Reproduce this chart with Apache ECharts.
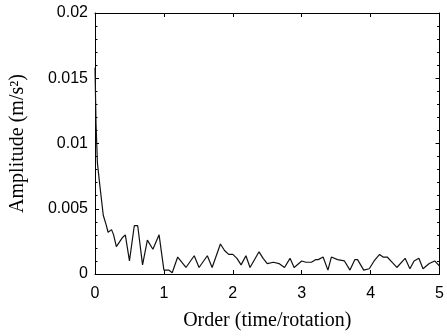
<!DOCTYPE html>
<html>
<head>
<meta charset="utf-8">
<script src="https://cdn.jsdelivr.net/npm/echarts@6/dist/echarts.min.js"></script>
<style>
  html, body { margin: 0; padding: 0; background: #fff; }
  #chart { width: 447px; height: 336px; }
</style>
</head>
<body>
<div id="chart"></div>
<script>
// Order axis positions (time/rotation)
const orders = [
  0.00, 0.015, 0.035, 0.07, 0.12, 0.16, 0.19, 0.24, 0.27, 0.31,
  0.40, 0.44, 0.50, 0.57, 0.62, 0.69, 0.76, 0.84, 0.93, 1.00,
  1.07, 1.12, 1.20, 1.32, 1.44, 1.51, 1.63, 1.70, 1.82, 1.88,
  1.94, 2.00, 2.06, 2.12, 2.19, 2.25, 2.38, 2.44, 2.50, 2.59,
  2.67, 2.75, 2.83, 2.89, 3.00, 3.06, 3.14, 3.20, 3.24, 3.31,
  3.38, 3.43, 3.52, 3.62, 3.70, 3.77, 3.81, 3.90, 3.98, 4.05,
  4.13, 4.18, 4.24, 4.33, 4.38, 4.50, 4.57, 4.63, 4.70, 4.76,
  4.85, 4.93, 5.00
]

// Amplitude (m/s^2) at each order
const amplitudes = [
  0.0158, 0.0115, 0.0085, 0.0068, 0.0045, 0.0038, 0.0032, 0.0034, 0.0030, 0.0021,
  0.0028, 0.0030, 0.0010, 0.0037, 0.0037, 0.0007, 0.0026, 0.0019, 0.0030, 0.0003,
  0.0003, 0.0001, 0.0013, 0.0005, 0.0014, 0.0005, 0.0014, 0.0005, 0.0023, 0.0018,
  0.0015, 0.0015, 0.0012, 0.0007, 0.0014, 0.0005, 0.0017, 0.0012, 0.0008, 0.0009,
  0.0008, 0.0005, 0.0012, 0.0005, 0.0010, 0.0009, 0.0009, 0.0011, 0.0011, 0.0013,
  0.0003, 0.0013, 0.0011, 0.0010, 0.0003, 0.0011, 0.0011, 0.0003, 0.0004, 0.0010,
  0.0015, 0.0013, 0.0013, 0.0008, 0.0005, 0.0012, 0.0004, 0.0010, 0.0012, 0.0004,
  0.0008, 0.0010, 0.0006
]

const xTicks = { min: 0, max: 5, interval: 1 }
const yTicks = { min: 0, max: 0.02, interval: 0.005 }

const chart = echarts.init(document.getElementById('chart'), null, { renderer: 'canvas' })

// Shared box styling: black frame, ticks pointing inward (MATLAB look)
const axisLine = { show: true, onZero: false, lineStyle: { color: '#000', width: 1 } }
const tickLabelFont = { color: '#000', fontSize: 16, fontFamily: 'Liberation Sans, Arial, sans-serif' }
const titleFont = { color: '#000', fontSize: 20, fontFamily: 'Liberation Serif, Times New Roman, serif' }

const option = {
  backgroundColor: '#fff',
  animation: false,
  grid: { left: 95, right: 3, top: 13, bottom: 61, containLabel: false },
  xAxis: [
    {
      type: 'value',
      position: 'bottom',
      ...xTicks,
      name: 'Order (time/rotation)',
      nameLocation: 'middle',
      nameGap: 37,
      nameTextStyle: titleFont,
      axisLine,
      axisTick: { show: true, inside: true, length: 4, lineStyle: { color: '#000' } },
      axisLabel: { ...tickLabelFont, margin: 12 },
      splitLine: { show: false }
    },
    {
      type: 'value',
      position: 'top',
      ...xTicks,
      axisLine,
      axisTick: { show: true, inside: true, length: 4, lineStyle: { color: '#000' } },
      axisLabel: { show: false },
      splitLine: { show: false }
    }
  ],
  yAxis: [
    {
      type: 'value',
      position: 'left',
      ...yTicks,
      name: 'Amplitude (m/s²)',
      nameLocation: 'middle',
      nameGap: 67,
      nameTextStyle: titleFont,
      axisLine,
      axisTick: { show: true, inside: true, length: 4, lineStyle: { color: '#000' } },
      minorTick: { show: true, splitNumber: 5, length: 2.5, lineStyle: { color: '#000' } },
      axisLabel: { ...tickLabelFont, margin: 7 },
      splitLine: { show: false }
    },
    {
      type: 'value',
      position: 'right',
      ...yTicks,
      axisLine,
      axisTick: { show: true, inside: true, length: 4, lineStyle: { color: '#000' } },
      minorTick: { show: true, splitNumber: 5, length: 2.5, lineStyle: { color: '#000' } },
      axisLabel: { show: false },
      splitLine: { show: false }
    }
  ],
  series: [
    {
      type: 'line',
      xAxisIndex: 0,
      yAxisIndex: 0,
      data: orders.map((o, i) => [o, amplitudes[i]]),
      showSymbol: false,
      lineStyle: { color: '#111', width: 1.2 },
      clip: true
    }
  ]
}

chart.setOption(option)
</script>
</body>
</html>
